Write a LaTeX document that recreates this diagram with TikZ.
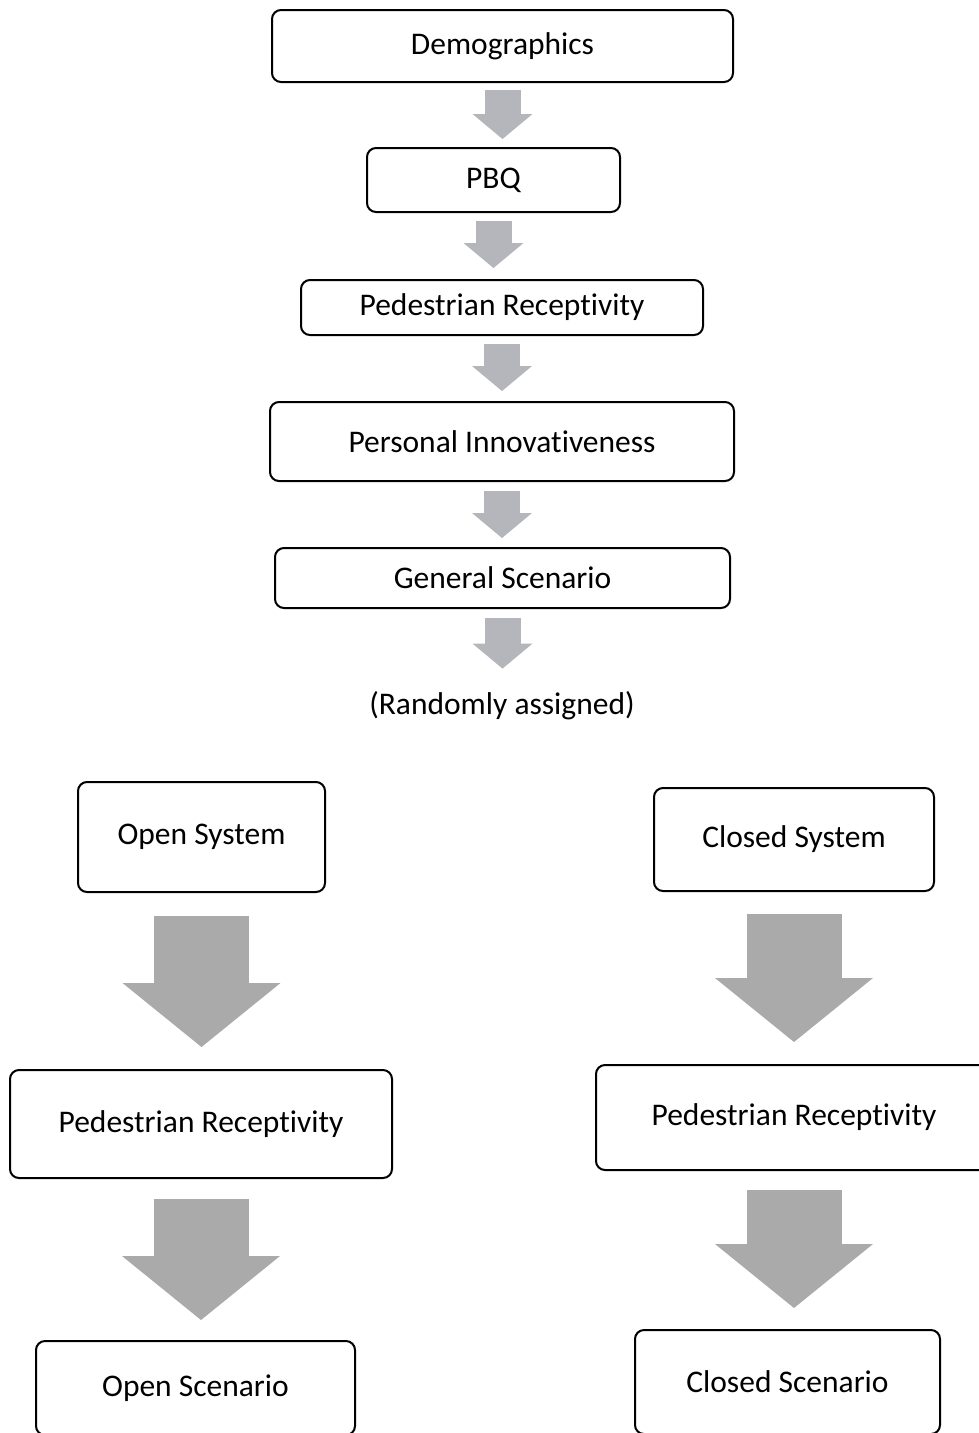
\documentclass[tikz,border=0pt]{standalone}
\usepackage{fontspec}
\setmainfont{Carlito}[Ligatures=NoCommon]
\usetikzlibrary{arrows.meta}
\definecolor{smallgrey}{HTML}{B4B6BC}
\definecolor{biggrey}{HTML}{AAAAAA}

\begin{document}
\begin{tikzpicture}[x=1pt,y=-1pt,
	box/.style={draw,line width=2pt,rounded corners=9pt,inner sep=0pt,font=\fontsize{31.5}{38}\selectfont},
	note/.style={inner sep=0pt,font=\fontsize{31.5}{38}\selectfont},
	smallarrow/.style={smallgrey,line width=36pt,-{Triangle[width=60pt,length=25pt,line width=0pt]}},
	bigarrow/.style={biggrey,line width=95pt,-{Triangle[width=158pt,length=64pt,line width=0pt]}}]
	\useasboundingbox (0,0) rectangle (979,1433);
	% common part
	\node[box,minimum width=461pt,minimum height=72pt] (demo) at (502.5,46) {Demographics};
	\node[box,minimum width=253pt,minimum height=64pt] (pbq) at (493.5,180) {PBQ};
	\node[box,minimum width=402pt,minimum height=55pt] (recep) at (502,307.5) {Pedestrian Receptivity};
	\node[box,minimum width=464pt,minimum height=79pt] (innov) at (502,441.5) {Personal Innovativeness};
	\node[box,minimum width=455pt,minimum height=60pt] (general) at (502.5,578) {General Scenario};
	\node[note] (random) at (502,706) {(Randomly assigned)};
	% open branch
	\node[box,minimum width=247pt,minimum height=110pt] (opensys) at (201.5,837) {Open System};
	\node[box,minimum width=382pt,minimum height=108pt] (openrecep) at (201,1124) {Pedestrian Receptivity};
	\node[box,minimum width=319pt,minimum height=94pt] (openscen) at (195.5,1388) {Open Scenario};
	% closed branch
	\node[box,minimum width=280pt,minimum height=103pt] (closedsys) at (794,839.5) {Closed System};
	\node[box,minimum width=396pt,minimum height=105pt] (closedrecep) at (794,1117.5) {Pedestrian Receptivity};
	\node[box,minimum width=305pt,minimum height=104pt] (closedscen) at (787.5,1382) {Closed Scenario};
	%
	\draw[smallarrow,shorten <=7pt,shorten >=8pt] (demo.south) -- (demo.south |- pbq.north);
	\draw[smallarrow,shorten <=8pt,shorten >=11pt] (pbq.south) -- (pbq.south |- recep.north);
	\draw[smallarrow,shorten <=8pt,shorten >=10pt] (recep.south) -- (recep.south |- innov.north);
	\draw[smallarrow,shorten <=9pt,shorten >=9pt] (innov.south) -- (innov.south |- general.north);
	\draw[smallarrow,shorten <=9pt,shorten >=23pt] (general.south) -- (general.south |- random.north);
	%
	\draw[bigarrow,shorten <=23pt,shorten >=22pt] (opensys.south) -- (opensys.south |- openrecep.north);
	\draw[bigarrow,shorten <=20pt,shorten >=20pt] (openrecep.south) -- (openrecep.south |- openscen.north);
	\draw[bigarrow,shorten <=22pt,shorten >=22pt] (closedsys.south) -- (closedsys.south |- closedrecep.north);
	\draw[bigarrow,shorten <=19pt,shorten >=21pt] (closedrecep.south) -- (closedrecep.south |- closedscen.north);
\end{tikzpicture}
\end{document}
